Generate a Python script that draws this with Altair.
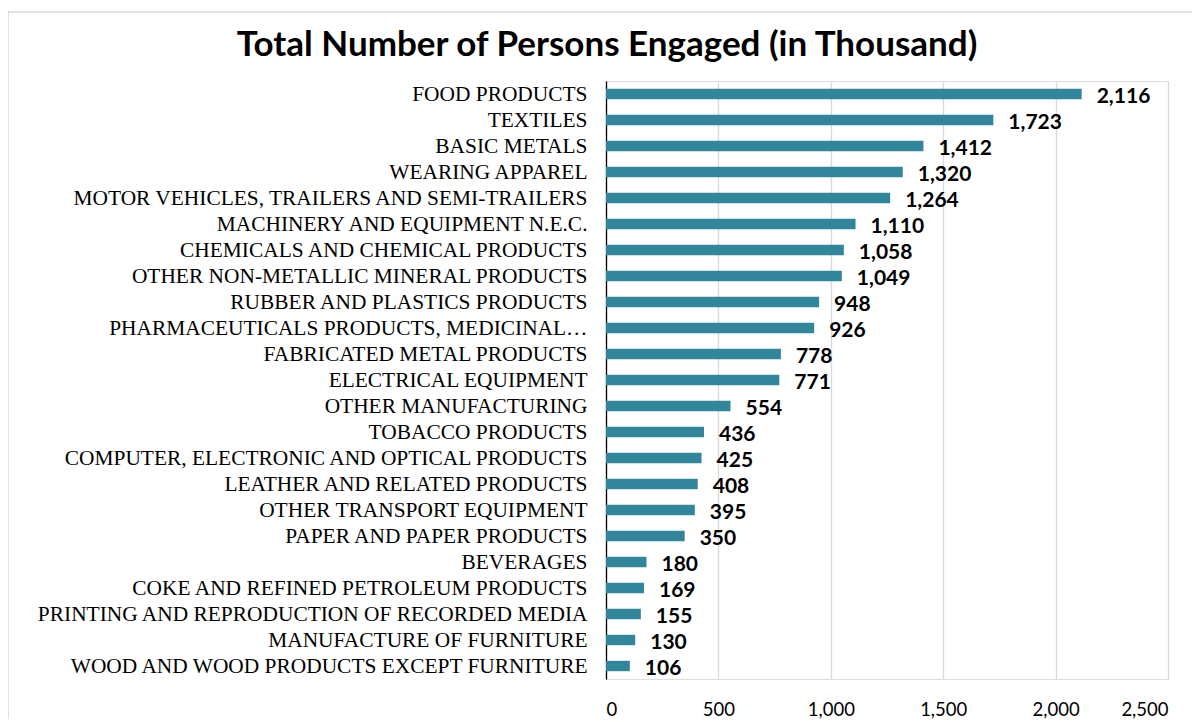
import altair as alt
import pandas as pd

categories = [
    "FOOD PRODUCTS", "TEXTILES", "BASIC METALS", "WEARING APPAREL",
    "MOTOR VEHICLES, TRAILERS AND SEMI-TRAILERS", "MACHINERY AND EQUIPMENT N.E.C.",
    "CHEMICALS AND CHEMICAL PRODUCTS", "OTHER NON-METALLIC MINERAL PRODUCTS",
    "RUBBER AND PLASTICS PRODUCTS", "PHARMACEUTICALS PRODUCTS, MEDICINAL…",
    "FABRICATED METAL PRODUCTS", "ELECTRICAL EQUIPMENT", "OTHER MANUFACTURING",
    "TOBACCO PRODUCTS", "COMPUTER, ELECTRONIC AND OPTICAL PRODUCTS",
    "LEATHER AND RELATED PRODUCTS", "OTHER TRANSPORT EQUIPMENT",
    "PAPER AND PAPER PRODUCTS", "BEVERAGES", "COKE AND REFINED PETROLEUM PRODUCTS",
    "PRINTING AND REPRODUCTION OF RECORDED MEDIA", "MANUFACTURE OF FURNITURE",
    "WOOD AND WOOD PRODUCTS EXCEPT FURNITURE",
]
values = [2116, 1723, 1412, 1320, 1264, 1110, 1058, 1049, 948, 926, 778, 771,
          554, 436, 425, 408, 395, 350, 180, 169, 155, 130, 106]
x_ticks = [0, 500, 1000, 1500, 2000, 2500]
title_text = "Total Number of Persons Engaged (in Thousand)"

df = pd.DataFrame({"category": categories, "value": values})

y_enc = alt.Y("category:N", sort=categories, title=None,
              scale=alt.Scale(paddingInner=0.6, paddingOuter=0.3),
              axis=alt.Axis(labelFont="Liberation Serif", labelFontSize=21.4,
                            labelColor="#000000", labelPadding=19, ticks=False,
                            labelOffset=1,
                            domain=True, domainColor="#000000", domainWidth=1.3,
                            labelLimit=700, grid=False))
x_enc = alt.X("value:Q", title=None,
              scale=alt.Scale(domain=[0, 2500], nice=False),
              axis=alt.Axis(values=x_ticks, format=",.0f", labelFont="Lato",
                            labelFontSize=18.5, labelColor="#000000",
                            labelPadding=21, ticks=False, domain=False,
                            grid=True, gridColor="#d9d9d9", gridWidth=1.3))

base = alt.Chart(df)
bars = base.mark_bar(color="#31869B").encode(x=x_enc, y=y_enc)
labels = base.mark_text(align="left", baseline="middle", dx=15, dy=3,
                        font="Lato", fontSize=21, fontWeight="bold",
                        color="#000000").encode(
    x="value:Q", y=alt.Y("category:N", sort=categories),
    text=alt.Text("value:Q", format=",.0f"))

frame = alt.Chart(alt.Data(values=[{}])).mark_rect(
    fill=None, stroke="#d9d9d9", strokeWidth=1.5).encode(
    x=alt.value(-598), x2=alt.value(700), y=alt.value(-69), y2=alt.value(800))

title = alt.Chart(alt.Data(values=[{"t": title_text}])).mark_text(
    align="center", baseline="alphabetic", font="Lato", fontSize=35,
    fontWeight="bold", color="#000000").encode(
    x=alt.value(1), y=alt.value(-25), text="t:N")

chart = alt.layer(frame, bars, labels, title).properties(
    width=562, height=598,
    autosize=alt.AutoSizeParams(type="none"),
    padding={"left": 598, "top": 73, "right": 24, "bottom": 40},
).configure_view(stroke=None).configure(background="white")

chart.save("out.html", embed_options={"renderer": "svg", "actions": False})
